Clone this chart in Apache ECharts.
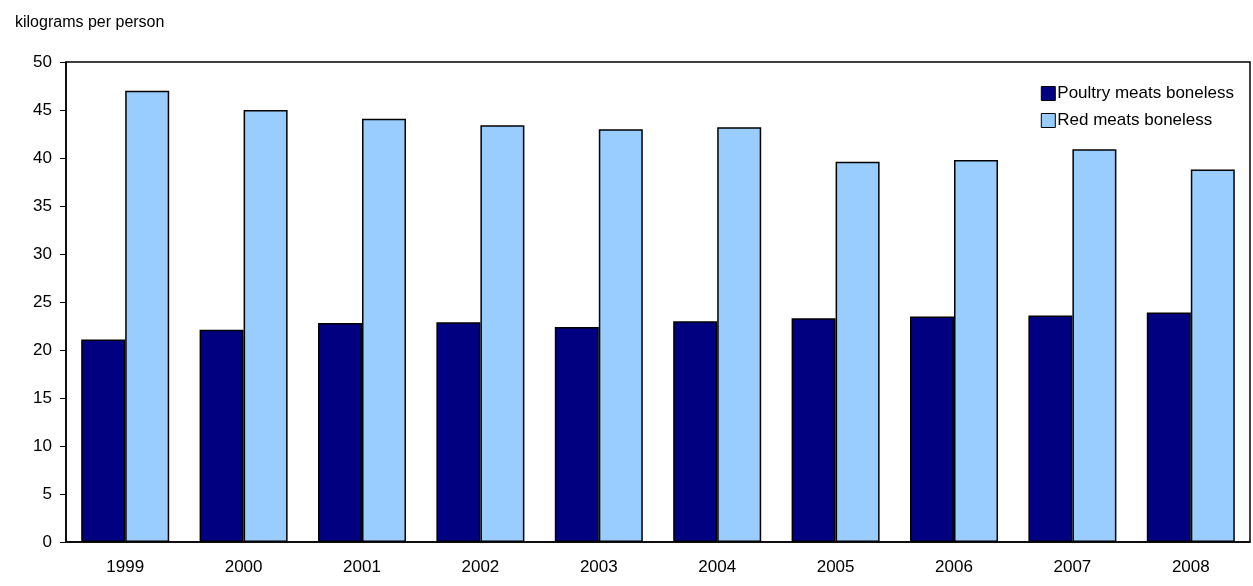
<!DOCTYPE html>
<html>
<head>
<meta charset="utf-8">
<script src="https://cdn.jsdelivr.net/npm/echarts@6/dist/echarts.min.js"></script>
<style>html,body{margin:0;padding:0;background:#fff}#chart{width:1253px;height:586px}</style>
</head>
<body>
<div id="chart"></div>
<script>
var years = ['1999', '2000', '2001', '2002', '2003', '2004', '2005', '2006', '2007', '2008'];
var poultry = [21.1, 22.1, 22.8, 22.9, 22.4, 23.0, 23.3, 23.5, 23.6, 23.9];
var redMeat = [47.0, 45.0, 44.1, 43.4, 43.0, 43.2, 39.6, 39.8, 40.9, 38.8];

var chart = echarts.init(document.getElementById('chart'));
var font = 'Liberation Sans, Arial, sans-serif';
chart.setOption({
  animation: false,
  textStyle: { fontFamily: font },
  title: {
    text: 'kilograms per person', left: 10, top: 10,
    textStyle: { fontSize: 16, fontWeight: 'normal', color: '#000', fontFamily: font }
  },
  legend: {
    orient: 'vertical', right: 14, top: 80, icon: 'rect', itemWidth: 14, itemHeight: 14, itemGap: 10,
    textStyle: { fontSize: 17, color: '#000', padding: [0, 0, 0, -3] },
    itemStyle: { borderColor: '#000', borderWidth: 1 },
    data: ['Poultry meats boneless', 'Red meats boneless']
  },
  grid: { left: 66, right: 3, top: 62, bottom: 44, show: true, borderColor: '#000', borderWidth: 1.5 },
  xAxis: {
    type: 'category', data: years,
    axisLine: { lineStyle: { color: '#000', width: 1.5 } },
    axisTick: { show: false },
    axisLabel: { color: '#000', fontSize: 17, margin: 17 }
  },
  yAxis: {
    type: 'value', min: 0, max: 50, interval: 5,
    axisLine: { show: true, lineStyle: { color: '#000', width: 1.5 } },
    axisTick: { show: true, length: 6, lineStyle: { color: '#000' } },
    splitLine: { show: false },
    axisLabel: { color: '#000', fontSize: 17, margin: 14 }
  },
  series: [
    { name: 'Poultry meats boneless', type: 'bar', data: poultry, barWidth: 44, barGap: '0%',
      itemStyle: { color: '#000080', borderColor: '#000', borderWidth: 1.5 } },
    { name: 'Red meats boneless', type: 'bar', data: redMeat, barWidth: 44,
      itemStyle: { color: '#99ccff', borderColor: '#000', borderWidth: 1.5 } }
  ]
});
</script>
</body>
</html>
